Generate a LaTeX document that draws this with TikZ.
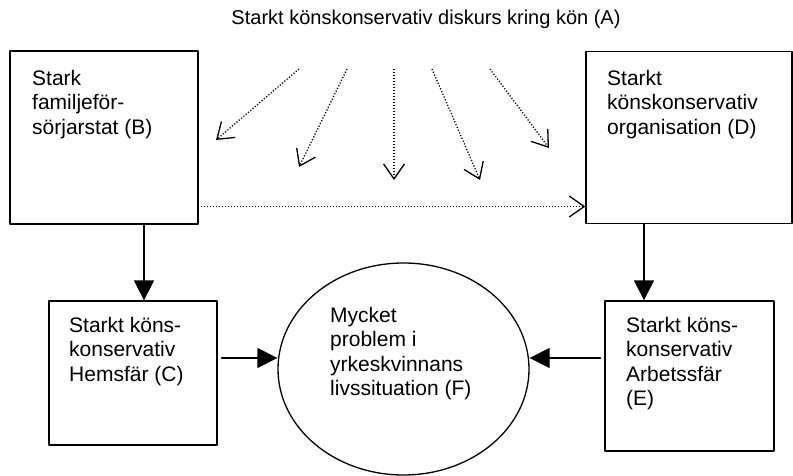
\documentclass[tikz,border=0pt]{standalone}
\usepackage{fontspec}
\setmainfont{Liberation Sans}
\usetikzlibrary{arrows.meta,shapes.geometric,positioning}

\begin{document}
\begin{tikzpicture}[line cap=round,line join=round,x=1pt,y=-1pt,
    box/.style={draw,line width=1.3pt,rectangle,inner sep=0pt},
    boxtext/.style={anchor=north west,align=left,inner sep=0pt,font=\fontsize{21}{24.5}\selectfont},
    solidarrow/.style={line width=1.3pt,-{Triangle[length=20pt,width=20pt]}},
    dotarrow/.style={line width=1.3pt,dash pattern=on 1.2pt off 1.8pt,line cap=butt,
      -{Straight Barb[length=15pt,width=21pt,line width=1.3pt]}}]
    \useasboundingbox (0,0) rectangle (793,476);
    % title
    \node[anchor=base,inner sep=0pt,font=\fontsize{20}{24}\selectfont] (A) at (426,25) {Starkt könskonservativ diskurs kring kön (A)};
    % boxes
    \node[box,minimum width=188pt,minimum height=173pt] (B) at (104,137.5) {};
    \node[box,minimum width=206pt,minimum height=172pt] (D) at (689,137.5) {};
    \node[box,minimum width=168pt,minimum height=144pt] (C) at (133,373) {};
    \node[box,minimum width=169pt,minimum height=150pt] (E) at (689.5,376) {};
    \node[draw,line width=1.3pt,ellipse,inner sep=0pt,minimum width=251pt,minimum height=212pt] (F) at (403.5,369) {};
    \node[boxtext] (Btext) at (32,70) {Stark\\familjeför-\\sörjarstat (B)};
    \node[boxtext] (Dtext) at (607,70) {Starkt\\könskonservativ\\organisation (D)};
    \node[boxtext] (Ctext) at (69,317) {Starkt köns-\\konservativ\\Hemsfär (C)};
    \node[boxtext] (Etext) at (626,317) {Starkt köns-\\konservativ\\Arbetssfär\\(E)};
    \node[boxtext] (Ftext) at (330,307) {Mycket\\problem i\\yrkeskvinnans\\livssituation (F)};
    % dotted arrows from the discourse
    \foreach \i/\sx/\ex/\ey in {1/299/216/140,2/347/299/167,3/394/394/180,4/432/480/180,5/490/549/148}{
      \coordinate (s\i) at (\sx,69);
      \coordinate (t\i) at (\ex,\ey);
      \draw[dotarrow] (s\i) -- (t\i);
    }
    \coordinate (bd) at ([xshift=2pt,yshift=-69pt]B.east);
    \draw[dotarrow] (bd) -- (bd -| D.west);
    % solid arrows
    \draw[solidarrow] ([xshift=40pt]B.south) -- ([xshift=11pt]C.north);
    \draw[solidarrow] ([xshift=-45pt]D.south) -- ([xshift=-45.5pt]E.north);
    \coordinate (cf) at ([xshift=4pt,yshift=15pt]C.east);
    \draw[solidarrow] (cf) -- (cf -| F.west);
    \coordinate (ef) at ([xshift=-4pt,yshift=18pt]E.west);
    \draw[solidarrow] (ef) -- (ef -| F.east);
\end{tikzpicture}
\end{document}
